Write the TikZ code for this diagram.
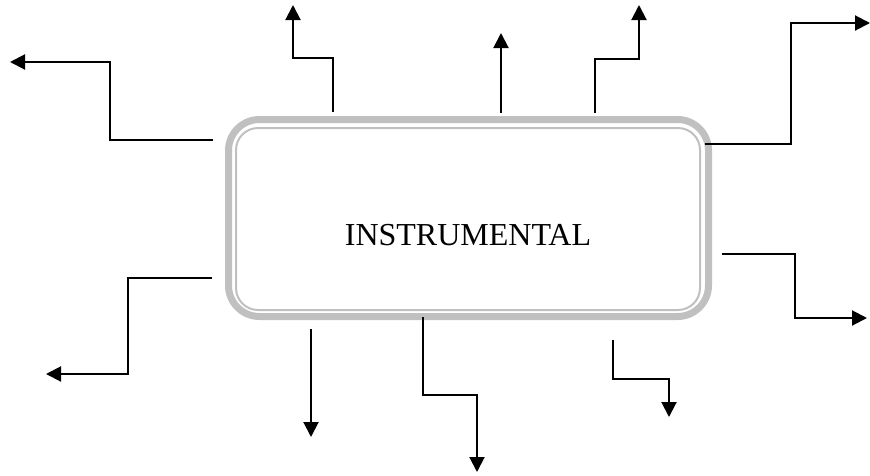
\documentclass[tikz,border=0pt]{standalone}
\usepackage{fontspec}
\setmainfont{Liberation Serif}
\usetikzlibrary{arrows.meta}
\definecolor{boxgray}{RGB}{192,192,192}
\tikzset{
  flow/.style={line width=2pt, -{Triangle[length=15pt,width=15pt]}},
  outerband/.style={draw=boxgray, line width=7pt, rounded corners=31pt, minimum width=480pt, minimum height=197pt, inner sep=0pt},
  innerband/.style={draw=boxgray, line width=2pt, rounded corners=22pt, minimum width=464pt, minimum height=182pt, inner sep=0pt, font=\fontsize{32}{38}\selectfont},
}
\begin{document}
\begin{tikzpicture}[x=1pt,y=-1pt]
\useasboundingbox (0,0) rectangle (870,475);
\node[outerband] (box) at (468.5,218) {};
\node[innerband] (boxin) at (468,219) {};
\node[anchor=base, font=\fontsize{32}{38}\selectfont] (label) at (468,245) {INSTRUMENTAL};
% start coordinates
\coordinate (s1) at (213,140);
\coordinate (e1) at (10,62);
\coordinate (s2) at (333,112);
\coordinate (e2) at (293,5);
\coordinate (s3) at (501,113);
\coordinate (e3) at (501,33);
\coordinate (s4) at (595,113);
\coordinate (e4) at (639,5);
\coordinate (s5) at (705,144);
\coordinate (e5) at (870,23);
\coordinate (s6) at (722,254);
\coordinate (e6) at (867,318);
\coordinate (s7) at (212,278);
\coordinate (e7) at (46,374);
\coordinate (s8) at (311,329);
\coordinate (e8) at (311,437);
\coordinate (s9) at (423,317);
\coordinate (e9) at (477,472);
\coordinate (s10) at (613,340);
\coordinate (e10) at (669,417);
\draw[flow] (s1) -- (110,140) -- (110,62) -- (e1);
\draw[flow] (s2) -- (333,58) -- (293,58) -- (e2);
\draw[flow] (s3) -- (e3);
\draw[flow] (s4) -- (595,59) -- (639,59) -- (e4);
\draw[flow] (s5) -- (791,144) -- (791,23) -- (e5);
\draw[flow] (s6) -- (795,254) -- (795,318) -- (e6);
\draw[flow] (s7) -- (128,278) -- (128,374) -- (e7);
\draw[flow] (s8) -- (e8);
\draw[flow] (s9) -- (423,395) -- (477,395) -- (e9);
\draw[flow] (s10) -- (613,379) -- (669,379) -- (e10);
\end{tikzpicture}
\end{document}
